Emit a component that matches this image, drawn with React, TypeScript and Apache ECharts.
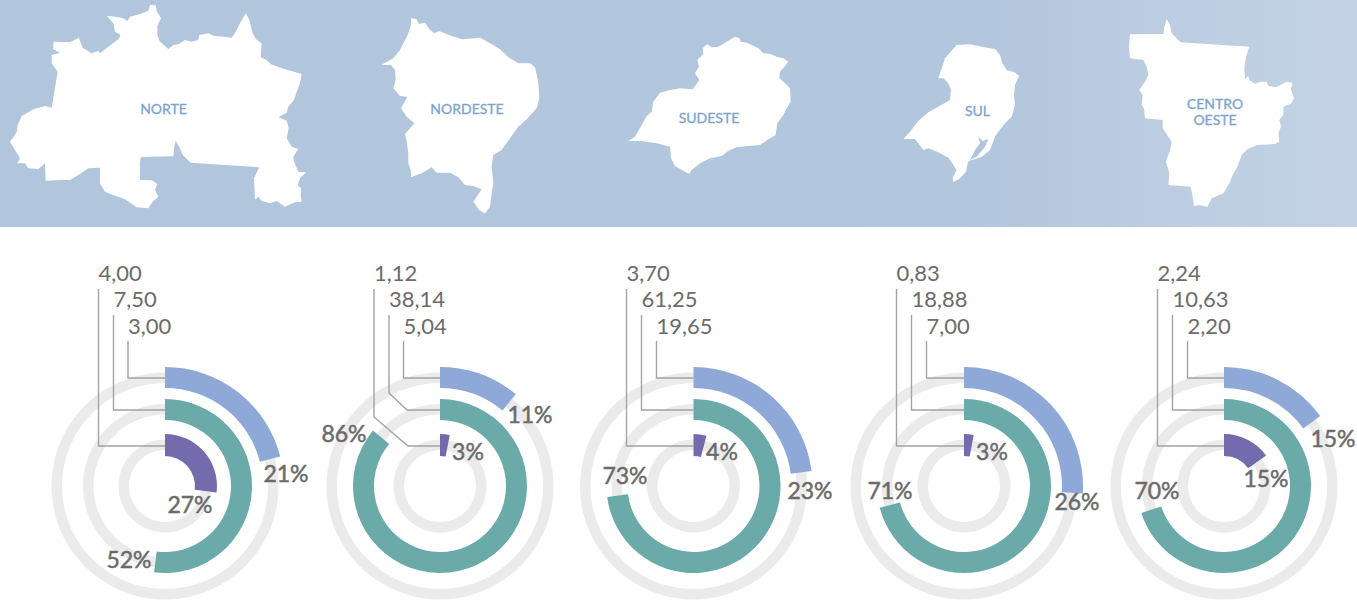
import React, { useEffect, useRef } from "react";
import * as echarts from "echarts";

const regionNames = ["NORTE", "NORDESTE", "SUDESTE", "SUL", "CENTRO\nOESTE"];
const outerPct = [21, 11, 23, 26, 15];
const middlePct = [52, 86, 73, 71, 70];
const innerPct = [27, 3, 4, 3, 15];
const outerVal = ["3,00", "5,04", "19,65", "7,00", "2,20"];
const middleVal = ["7,50", "38,14", "61,25", "18,88", "10,63"];
const innerVal = ["4,00", "1,12", "3,70", "0,83", "2,24"];

const centersX = [165, 440, 693.5, 964, 1224];
const CY = 486;
const COLORS = { outer: "#8ea9d8", middle: "#6aaaa9", inner: "#736bab", track: "#ebebeb", line: "#a3a3a3", text: "#6b6b6b", band: "#b1c5dd", map: "#7ba3cf" };

const outerLabelPos = [[286, 473], [530, 414], [810, 490], [1077, 501], [1333, 438]];
const middleLabelPos = [[129, 559], [344, 433], [625, 475], [890, 490], [1157, 490]];
const innerLabelPos = [[190, 504], [468, 451], [722, 451], [992, 451], [1266, 478]];

const leaderX = [[98.5, 113.5, 128], [374, 389, 403.5], [626.5, 641.5, 656.5], [896.5, 911.5, 926.5], [1157.5, 1172.5, 1187.5]];

const norte = [[450,15],[467,16],[470,32],[483,55],[472,78],[472,105],[480,125],[505,147],[520,135],[535,133],[555,120],[575,125],[595,120],[598,105],[625,100],[640,107],[670,110],[695,113],[707,95],[722,65],[738,40],[748,60],[758,100],[768,118],[785,130],[782,172],[800,180],[812,192],[845,205],[905,222],[900,250],[890,275],[882,300],[865,320],[860,338],[835,352],[860,362],[866,385],[860,415],[875,440],[895,447],[880,470],[882,485],[895,515],[918,517],[900,535],[893,555],[903,565],[902,585],[905,605],[885,607],[855,620],[830,603],[810,610],[785,603],[775,590],[765,600],[762,535],[778,502],[572,488],[548,465],[540,445],[527,422],[522,445],[520,469],[422,471],[420,490],[420,540],[455,541],[472,552],[465,570],[475,590],[458,605],[445,625],[410,622],[375,598],[340,585],[315,575],[300,550],[300,503],[265,505],[235,525],[210,540],[180,540],[137,542],[135,490],[115,507],[85,505],[75,490],[52,490],[60,475],[45,450],[30,425],[50,397],[53,375],[65,348],[100,328],[135,318],[155,323],[173,215],[155,190],[155,165],[180,158],[160,148],[160,125],[210,127],[236,113],[248,143],[275,160],[295,152],[300,160],[335,133],[355,118],[362,105],[345,95],[340,70],[320,47],[345,50],[370,55],[382,63],[390,50],[420,42],[445,32]];
const nordeste = [[108,25],[125,28],[132,42],[150,38],[165,60],[178,70],[192,63],[230,78],[262,88],[315,83],[345,100],[375,118],[400,142],[430,160],[465,160],[480,172],[490,215],[493,265],[485,295],[455,328],[430,350],[410,378],[380,420],[355,435],[350,470],[355,520],[348,565],[345,590],[330,610],[312,600],[295,575],[320,538],[295,528],[270,525],[250,502],[225,488],[185,488],[170,472],[140,490],[108,502],[107,480],[100,460],[100,430],[95,395],[90,372],[118,340],[95,320],[78,295],[97,260],[75,258],[55,235],[62,210],[60,180],[48,165],[18,165],[55,145],[75,120],[100,70],[108,45]];
const sudeste = [[345,20],[358,25],[362,35],[380,38],[395,45],[415,55],[430,70],[452,72],[470,80],[490,85],[505,95],[490,115],[480,125],[478,145],[495,160],[510,175],[512,215],[500,235],[490,255],[472,280],[467,315],[445,328],[420,345],[385,348],[350,352],[325,362],[305,378],[270,385],[240,400],[215,420],[208,432],[195,425],[165,408],[153,385],[150,350],[110,340],[65,333],[25,333],[45,320],[65,285],[80,258],[95,245],[100,215],[120,188],[150,180],[180,175],[218,178],[238,150],[225,130],[237,110],[232,90],[250,72],[248,55],[262,42],[275,52],[295,50],[320,35]];
const sul = [[185,30],[225,28],[260,35],[300,42],[315,60],[322,85],[335,105],[358,112],[372,122],[360,150],[357,180],[360,210],[350,245],[330,265],[310,290],[300,305],[285,345],[260,365],[222,378],[218,385],[213,410],[195,430],[175,442],[173,428],[185,405],[180,398],[172,385],[160,368],[130,352],[100,340],[85,345],[60,312],[25,312],[45,290],[70,258],[100,232],[135,212],[165,195],[168,165],[160,145],[145,130],[130,130],[140,100],[150,70]];
const lagoa = [[250,305],[262,318],[280,312],[270,335],[245,365],[225,375],[240,345],[255,325]];
const centro = [[140,27],[150,45],[155,70],[170,85],[182,97],[388,110],[378,140],[373,175],[375,208],[385,198],[388,210],[405,222],[420,215],[440,215],[445,228],[468,232],[500,215],[517,218],[513,240],[522,265],[515,280],[490,290],[490,315],[478,330],[483,350],[475,370],[478,395],[465,402],[410,405],[382,418],[365,435],[352,470],[338,495],[328,520],[310,550],[275,565],[262,590],[240,585],[222,588],[218,560],[212,530],[145,525],[148,490],[138,455],[150,420],[155,395],[138,370],[128,355],[128,330],[75,325],[72,295],[65,285],[68,255],[58,240],[75,215],[85,195],[80,170],[70,150],[30,145],[27,110],[30,73],[130,72],[133,50]];

const crop = (p: number[][], ox: number, oy: number) => p.map(([x, y]) => [ox + x / 3, oy + y / 3]);
const mapLabelPos = [[163.5, 108], [467, 108], [709, 117], [977.5, 110.5], [1215, 111]];

const FONT = "Lato, 'Open Sans', sans-serif";

function ring(cx: number, r: [number, number], value: number, color: string, z: number) {
  return {
    type: "pie", center: [cx, CY], radius: r, startAngle: 90, clockwise: true, silent: true, z,
    label: { show: false }, labelLine: { show: false }, emphasis: { disabled: true },
    data: [
      { value, itemStyle: { color } },
      { value: 100 - value, itemStyle: { color: "transparent" } },
    ],
  };
}
function track(cx: number, r: [number, number]) {
  return {
    type: "pie", center: [cx, CY], radius: r, silent: true, z: 1,
    label: { show: false }, labelLine: { show: false }, emphasis: { disabled: true },
    data: [{ value: 1, itemStyle: { color: COLORS.track } }],
  };
}
function polygon(points: number[][], fill: any, z = 1) {
  return { type: "polygon", z, shape: { points }, style: { fill } };
}
function line(points: number[][]) {
  return { type: "polyline", z: 5, shape: { points }, style: { stroke: COLORS.line, lineWidth: 1.4, fill: "none" } };
}
function text(x: number, y: number, t: string, size: number, color: string, stroke: number, align = "center", lineHeight?: number) {
  return {
    type: "text", z: 10, x, y,
    style: { text: t, fill: color, stroke: stroke ? color : undefined, lineWidth: stroke, fontFamily: FONT, fontSize: size, fontWeight: 400, align, verticalAlign: "middle", lineHeight },
  };
}

export default function App() {
  const ref = useRef<HTMLDivElement>(null);
  useEffect(() => {
    const chart = echarts.init(ref.current!, null, { renderer: "svg" });
    const series: any[] = [];
    const graphic: any[] = [
      {
        type: "rect", z: 0, shape: { x: 0, y: 0, width: 1357, height: 227 },
        style: { fill: new echarts.graphic.LinearGradient(0, 0, 1, 0, [
          { offset: 0, color: "#b1c5dd" }, { offset: 0.72, color: "#b2c6dd" }, { offset: 0.92, color: "#c0d0e3" }, { offset: 1, color: "#c3d3e5" },
        ]) },
      },
      polygon(crop(norte, 0, 0), "#fff"), polygon(crop(nordeste, 375, 10), "#fff"), polygon(crop(sudeste, 620, 30), "#fff"),
      polygon(crop(sul, 895, 35), "#fff"), polygon(crop(lagoa, 895, 35), COLORS.band, 2), polygon(crop(centro, 1120, 10), "#fff"),
    ];
    regionNames.forEach((name, i) => {
      const cx = centersX[i];
      series.push(track(cx, [103, 113.5]), track(cx, [71.5, 82]), track(cx, [36, 46.5]));
      series.push(ring(cx, [98, 119], outerPct[i], COLORS.outer, 2));
      series.push(ring(cx, [66, 87], middlePct[i], COLORS.middle, 2));
      series.push(ring(cx, [30, 52], innerPct[i], COLORS.inner, 2));

      const [a, b, c] = leaderX[i];
      if (i === 1) {
        graphic.push(line([[a, 289], [a, 417], [408, 446], [cx, 446]]));
        graphic.push(line([[b, 315], [b, 393], [407, 410], [cx, 410]]));
      } else {
        graphic.push(line([[a, 289], [a, 446], [cx, 446]]));
        graphic.push(line([[b, 315], [b, 410], [cx, 410]]));
      }
      graphic.push(line([[c, 341], [c, 378], [cx, 378]]));

      graphic.push(text(a, 272, innerVal[i], 22, COLORS.text, 0, "left"));
      graphic.push(text(b, 298, middleVal[i], 22, COLORS.text, 0, "left"));
      graphic.push(text(c, 325, outerVal[i], 22, COLORS.text, 0, "left"));
      graphic.push(text(outerLabelPos[i][0], outerLabelPos[i][1], outerPct[i] + "%", 23, COLORS.text, 0.5));
      graphic.push(text(middleLabelPos[i][0], middleLabelPos[i][1], middlePct[i] + "%", 23, COLORS.text, 0.5));
      graphic.push(text(innerLabelPos[i][0], innerLabelPos[i][1], innerPct[i] + "%", 23, COLORS.text, 0.5));
      graphic.push(text(mapLabelPos[i][0], mapLabelPos[i][1], name, 14, COLORS.map, 0.3, "center", 16));
    });
    chart.setOption({ animation: false, backgroundColor: "#fff", series, graphic });
    return () => chart.dispose();
  }, []);
  return <div ref={ref} style={{ position: "fixed", left: 0, top: 0, width: 1357, height: 602 }} />;
}
